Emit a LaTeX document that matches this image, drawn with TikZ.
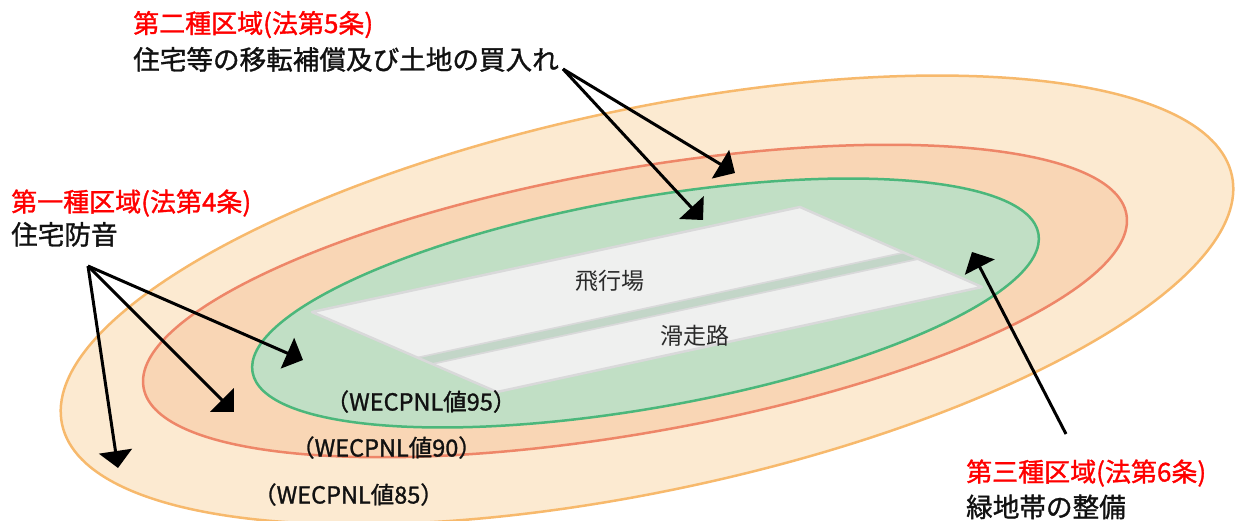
\documentclass[tikz,border=0pt]{standalone}
\usepackage{fontspec}
\setmainfont{Noto Sans CJK JP}
\newfontfamily\medfont{Noto Sans CJK JP}[FakeBold=1.2]
\usetikzlibrary{arrows.meta,calc}
\definecolor{outerfill}{HTML}{FCEAD1}
\definecolor{outerline}{HTML}{F7B96C}
\definecolor{midfill}{HTML}{F9D6B5}
\definecolor{midline}{HTML}{EE8668}
\definecolor{innerfill}{HTML}{C1DFC5}
\definecolor{innerline}{HTML}{4BB77B}
\definecolor{rwfill}{HTML}{EFF0EF}
\definecolor{rwedge}{HTML}{D9D9DA}
\definecolor{stripe}{HTML}{C3D6C8}
\definecolor{zred}{HTML}{FF0000}
\definecolor{ztext}{HTML}{111111}
\definecolor{rwtext}{HTML}{2A2A2A}
\begin{document}
\begin{tikzpicture}[x=1pt,y=-1pt,
  zone/.style={line width=2.5pt},
  arr/.style={line width=3pt,-{Triangle[length=17pt,width=33pt]}},
  headtext/.style={text=zred,anchor=base west,inner sep=0pt,font=\medfont\fontsize{26pt}{30pt}\selectfont},
  bodytext/.style={text=ztext,anchor=base west,inner sep=0pt,font=\medfont\fontsize{26.6pt}{30pt}\selectfont},
  wectext/.style={text=ztext,anchor=base,inner sep=0pt,font=\medfont\fontsize{23.5pt}{26pt}\selectfont},
  rwlabel/.style={text=rwtext,anchor=base,inner sep=0pt,font=\fontsize{23pt}{26pt}\selectfont}]
\useasboundingbox (0,0) rectangle (1235,521);
\clip (0,0) rectangle (1235,521);
% zones
\filldraw[zone,fill=outerfill,draw=outerline,rotate around={12:(647,300)}]
  (647,300) ellipse [x radius=598pt,y radius=191pt];
\filldraw[zone,fill=midfill,draw=midline,rotate around={10:(635,301)}]
  (635,301) ellipse [x radius=499pt,y radius=132pt];
\filldraw[zone,fill=innerfill,draw=innerline,rotate around={10:(645.5,303)}]
  (645.5,303) ellipse [x radius=399pt,y radius=105pt];
% runway
\coordinate (rwL) at (312,312);
\coordinate (rwT) at (800,207);
\coordinate (rwR) at (982,287);
\coordinate (rwB) at (497,392);
\fill[rwfill] (rwL) -- (rwT) -- (rwR) -- (rwB) -- cycle;
\coordinate (sL) at ($(rwL)!0.61!(rwB)$);
\coordinate (sR) at ($(rwT)!0.61!(rwR)$);
\begin{scope}
  \clip (rwL) -- (rwT) -- (rwR) -- (rwB) -- cycle;
  \draw[rwedge,line width=11pt] ($(sL)!-0.05!(sR)$) -- ($(sR)!-0.05!(sL)$);
  \draw[stripe,line width=7.5pt] ($(sL)!-0.05!(sR)$) -- ($(sR)!-0.05!(sL)$);
\end{scope}
\draw[rwedge,line width=2.5pt,line join=round] (rwL) -- (rwT) -- (rwR) -- (rwB) -- cycle;
\node[rwlabel] (hikojo) at (610,289.5) {飛行場};
\node[rwlabel] (kassoro) at (694.5,344.5) {滑走路};
% WECPNL labels
\node[wectext] (w95) at (421,410.5) {（WECPNL値95）};
\node[wectext] (w90) at (386.5,456.5) {（WECPNL値90）};
\node[wectext] (w85) at (348.5,503.5) {（WECPNL値85）};
% headings
\node[headtext] (h2) at (133,33) {第二種区域(法第5条)};
\node[bodytext] (b2) at (133,69.5) {住宅等の移転補償及び土地の買入れ};
\node[headtext] (h1) at (11,211.5) {第一種区域(法第4条)};
\node[bodytext] (b1) at (11,244.5) {住宅防音};
\node[headtext] (h3) at (966,481.5) {第三種区域(法第6条)};
\node[bodytext] (b3) at (966,517) {緑地帯の整備};
% arrows
\coordinate (s2) at (563,69);
\coordinate (t2a) at (735,173);
\coordinate (t2b) at (703,220);
\coordinate (s1) at (88,266);
\coordinate (t1a) at (118,468);
\coordinate (t1b) at (234,412);
\coordinate (t1c) at (303,360);
\coordinate (s3) at (1066,434);
\coordinate (t3) at (972,252);
\draw[arr] (s2) -- (t2a);
\draw[arr] (s2) -- (t2b);
\draw[arr] (s1) -- (t1a);
\draw[arr] (s1) -- (t1b);
\draw[arr] (s1) -- (t1c);
\draw[arr] (s3) -- (t3);
\end{tikzpicture}
\end{document}
